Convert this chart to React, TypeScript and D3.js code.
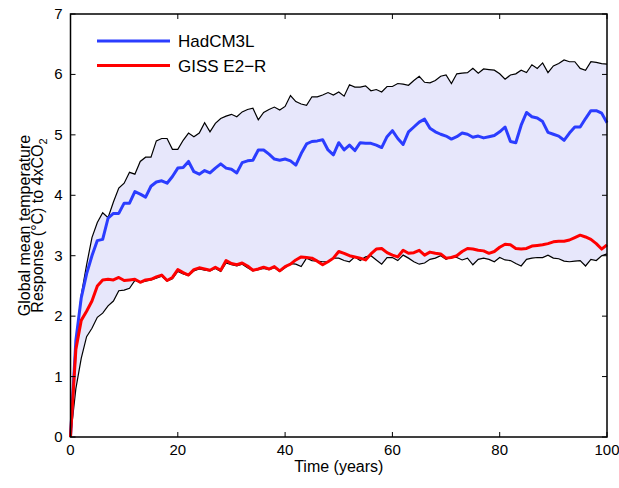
import * as d3 from "d3";

// years 0..100, one value per year
const years = d3.range(0, 101);

// HadCM3L response (blue)
const hadcm3l = [
  0, 1.6, 2.3, 2.7, 3.0, 3.25, 3.27, 3.62, 3.7, 3.7,
  3.87, 3.87, 4.06, 4.02, 3.97, 4.15, 4.22, 4.24, 4.2, 4.31,
  4.45, 4.46, 4.56, 4.39, 4.35, 4.41, 4.37, 4.45, 4.52, 4.45,
  4.43, 4.37, 4.54, 4.57, 4.58, 4.75, 4.75, 4.68, 4.6, 4.58,
  4.6, 4.57, 4.5, 4.69, 4.85, 4.89, 4.9, 4.92, 4.75, 4.67,
  4.87, 4.75, 4.83, 4.74, 4.87, 4.86, 4.86, 4.83, 4.79, 4.97,
  5.07, 4.94, 4.84, 5.05, 5.13, 5.21, 5.26, 5.11, 5.05, 5.01,
  4.98, 4.93, 4.97, 5.03, 5.01, 4.96, 4.98, 4.95, 4.97, 4.99,
  5.05, 5.13, 4.89, 4.87, 5.16, 5.37, 5.3, 5.28, 5.22, 5.04,
  5.01, 4.98, 4.91, 5.03, 5.13, 5.13, 5.27, 5.4, 5.4, 5.36,
  5.2,
];

// GISS E2-R response (red)
const gissE2R = [
  0, 1.45, 1.93, 2.08, 2.25, 2.5, 2.6, 2.61, 2.6, 2.64,
  2.59, 2.6, 2.61, 2.56, 2.6, 2.61, 2.65, 2.68, 2.59, 2.64,
  2.77, 2.72, 2.68, 2.77, 2.8, 2.78, 2.76, 2.81, 2.76, 2.92,
  2.87, 2.85, 2.88, 2.83, 2.76, 2.78, 2.81, 2.78, 2.82, 2.75,
  2.82, 2.86, 2.93, 2.98, 2.97, 2.96, 2.91, 2.85, 2.9, 2.96,
  3.07, 3.04, 3.0, 2.98, 2.96, 2.93, 3.03, 3.11, 3.12, 3.05,
  3.01, 2.98, 3.09, 3.04, 3.05, 3.09, 3.01, 3.06, 3.04, 3.03,
  2.96, 2.97, 3.0, 3.07, 3.12, 3.11, 3.09, 3.08, 3.04, 3.07,
  3.14, 3.19, 3.18, 3.12, 3.11, 3.12, 3.16, 3.17, 3.18, 3.2,
  3.23, 3.24, 3.24, 3.26, 3.3, 3.34, 3.31, 3.27, 3.2, 3.11,
  3.18,
];

// envelope edges (thin black lines)
const upperEdge = [
  0, 1.6, 2.35, 2.85, 3.3, 3.55, 3.71, 3.63, 3.89, 4.12,
  4.2, 4.38, 4.35, 4.56, 4.63, 4.63, 4.9, 4.94, 4.94, 4.76,
  4.76, 4.91, 5.03, 4.97, 5.03, 5.2, 5.05, 5.19, 5.27, 5.31,
  5.34, 5.3, 5.38, 5.42, 5.44, 5.25, 5.37, 5.42, 5.46, 5.41,
  5.47, 5.65, 5.55, 5.51, 5.49, 5.63, 5.63, 5.66, 5.7, 5.66,
  5.71, 5.64, 5.83, 5.79, 5.79, 5.81, 5.73, 5.75, 5.71, 5.8,
  5.8, 5.85, 5.84, 5.82, 5.9, 5.97, 5.87, 5.86, 5.9, 5.97,
  5.99, 5.85, 6.01, 6.02, 6.03, 6.1, 6.02, 6.09, 6.08, 6.07,
  6.01, 5.92, 5.99, 6.01, 6.07, 6.03, 6.16, 6.1, 6.19, 6.03,
  6.14, 6.18, 6.24, 6.21, 6.21, 6.1, 6.07, 6.21, 6.2, 6.18,
  6.17,
];

const lowerEdge = [
  0, 0.8, 1.3, 1.66, 1.8, 1.98, 2.05, 2.17, 2.25, 2.42,
  2.43, 2.46, 2.59, 2.56, 2.58, 2.6, 2.63, 2.66, 2.58, 2.62,
  2.74, 2.7, 2.67, 2.75, 2.78, 2.76, 2.75, 2.79, 2.74, 2.88,
  2.85, 2.83, 2.86, 2.8, 2.75, 2.77, 2.79, 2.77, 2.8, 2.74,
  2.8, 2.87, 2.86, 2.82, 2.96, 2.92, 2.91, 2.9, 2.9, 2.96,
  2.96, 2.92, 2.9, 2.98, 2.92, 2.98, 3.0, 2.93, 2.86, 2.97,
  2.97, 2.92, 3.01, 2.96, 2.9, 2.86, 2.88, 2.94, 2.96, 3.0,
  2.94, 2.98, 2.97, 2.93, 2.96, 2.85, 2.94, 2.96, 2.94, 2.9,
  2.97, 2.93, 2.92, 2.87, 2.83, 2.94, 2.96, 2.97, 2.97, 3.01,
  2.96, 2.95, 2.91, 2.9, 2.91, 2.92, 2.83, 2.94, 2.92, 3.0,
  3.03,
];

const xTicks = [0, 20, 40, 60, 80, 100];
const yTicks = [0, 1, 2, 3, 4, 5, 6, 7];

const legendItems = [
  { label: "HadCM3L", color: "#2b3dff" },
  { label: "GISS E2\u2212R", color: "#ff0000" },
];

const WIDTH = 619;
const HEIGHT = 488;
const MARGIN = { top: 14, right: 12, bottom: 51, left: 70.5 };
const FONT = "'Liberation Sans', Arial, Helvetica, sans-serif";
const TICK = 5;

export default function App() {
  const x = d3.scaleLinear().domain([0, 100]).range([MARGIN.left, WIDTH - MARGIN.right]);
  const y = d3.scaleLinear().domain([0, 7]).range([HEIGHT - MARGIN.bottom, MARGIN.top]);

  const [x0, x1] = x.range();
  const [y0, y1] = y.range();

  const band = d3
    .area<number>()
    .x((yr) => x(yr))
    .y0((yr, i) => y(lowerEdge[i]))
    .y1((yr, i) => y(upperEdge[i]));

  const line = (values: number[]) =>
    d3
      .line<number>()
      .x((yr) => x(yr))
      .y((yr, i) => y(values[i]))(years);

  return (
    <svg
      width={WIDTH}
      height={HEIGHT}
      style={{ position: "absolute", left: 0, top: 0, background: "#fff" }}
      fontFamily={FONT}
    >
      <path d={band(years) ?? ""} fill="#e7e7fb" stroke="none" />
      <path d={line(upperEdge) ?? ""} fill="none" stroke="#000" strokeWidth={1.2} />
      <path d={line(lowerEdge) ?? ""} fill="none" stroke="#000" strokeWidth={1.2} />
      <path d={line(hadcm3l) ?? ""} fill="none" stroke={legendItems[0].color} strokeWidth={3} strokeLinejoin="round" />
      <path d={line(gissE2R) ?? ""} fill="none" stroke={legendItems[1].color} strokeWidth={3} strokeLinejoin="round" />

      {/* frame */}
      <rect x={x0} y={y1} width={x1 - x0} height={y0 - y1} fill="none" stroke="#000" strokeWidth={1.5} />

      {xTicks.map((t) => (
        <g key={"x" + t}>
          <line x1={x(t)} x2={x(t)} y1={y0} y2={y0 - TICK} stroke="#000" strokeWidth={1} />
          <line x1={x(t)} x2={x(t)} y1={y1} y2={y1 + TICK} stroke="#000" strokeWidth={1} />
          <text x={x(t)} y={y0 + 18} textAnchor="middle" fontSize={15}>
            {t}
          </text>
        </g>
      ))}
      {yTicks.map((t) => (
        <g key={"y" + t}>
          <line x1={x0} x2={x0 + TICK} y1={y(t)} y2={y(t)} stroke="#000" strokeWidth={1} />
          <line x1={x1} x2={x1 - TICK} y1={y(t)} y2={y(t)} stroke="#000" strokeWidth={1} />
          <text x={x0 - 8} y={y(t) + 5} textAnchor="end" fontSize={15}>
            {t}
          </text>
        </g>
      ))}

      <text x={(x0 + x1) / 2} y={472} textAnchor="middle" fontSize={16}>
        Time (years)
      </text>
      <g transform={`translate(30,${(y0 + y1) / 2}) rotate(-90)`}>
        <text x={0} y={0} textAnchor="middle" fontSize={16}>
          Global mean temperature
        </text>
      </g>
      <g transform={`translate(43,${(y0 + y1) / 2}) rotate(-90)`}>
        <text x={0} y={0} textAnchor="middle" fontSize={16}>
          Response (°C) to 4xCO
          <tspan fontSize={11} dy={4}>
            2
          </tspan>
        </text>
      </g>

      {legendItems.map((item, i) => (
        <g key={item.label} transform={`translate(97,${41 + i * 24.5})`}>
          <line x1={0} x2={73} y1={0} y2={0} stroke={item.color} strokeWidth={3} />
          <text x={81} y={6} fontSize={17}>
            {item.label}
          </text>
        </g>
      ))}
    </svg>
  );
}
